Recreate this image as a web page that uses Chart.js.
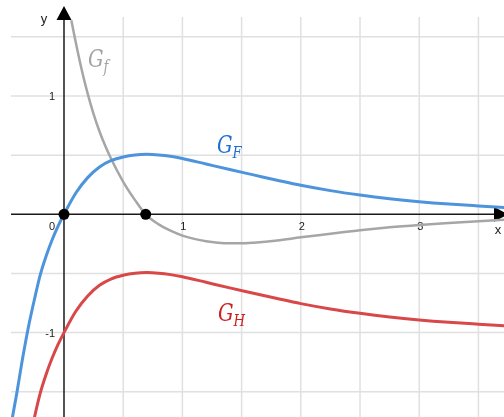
<!DOCTYPE html>
<html>
<head>
<meta charset="utf-8">
<script src="https://cdn.jsdelivr.net/npm/chart.js@4.4.1/dist/chart.umd.min.js"></script>
<style>
  html, body { margin: 0; padding: 0; background: #fff; }
  #wrap { width: 504px; height: 417px; }
</style>
</head>
<body>
<div id="wrap"><canvas id="graph"></canvas></div>
<script>
// curve values
const xF = [-0.44, -0.40, -0.35, -0.30, -0.25, -0.20, -0.15, -0.10, -0.05, 0, 0.1, 0.2, 0.3, 0.4, 0.5, 0.6, 0.7, 0.8, 0.9, 1.0, 1.2, 1.4, 1.6, 1.8, 2.0, 2.25, 2.5, 2.75, 3.0, 3.25, 3.5, 3.72];
const yF = [-1.74, -1.52, -1.22, -0.95, -0.72, -0.51, -0.35, -0.215, -0.10, 0, 0.18, 0.31, 0.40, 0.455, 0.485, 0.502, 0.507, 0.502, 0.49, 0.472, 0.425, 0.378, 0.333, 0.288, 0.245, 0.20, 0.163, 0.132, 0.107, 0.087, 0.071, 0.058];

const xH = [-0.27, -0.25, -0.20, -0.15, -0.10, -0.05, 0, 0.1, 0.2, 0.3, 0.4, 0.5, 0.6, 0.7, 0.8, 0.9, 1.0, 1.2, 1.4, 1.6, 1.8, 2.0, 2.25, 2.5, 2.75, 3.0, 3.25, 3.5, 3.72];
const yH = [-1.82, -1.72, -1.51, -1.35, -1.215, -1.10, -1.0, -0.82, -0.69, -0.60, -0.545, -0.515, -0.498, -0.493, -0.498, -0.51, -0.528, -0.575, -0.622, -0.667, -0.712, -0.755, -0.80, -0.837, -0.868, -0.893, -0.913, -0.929, -0.942];

const xf = [0.062, 0.08, 0.1, 0.15, 0.2, 0.25, 0.3, 0.35, 0.4, 0.5, 0.6, 0.69, 0.8, 0.9, 1.0, 1.1, 1.2, 1.3, 1.4, 1.5, 1.6, 1.8, 2.0, 2.25, 2.5, 2.75, 3.0, 3.25, 3.5, 3.72];
const yf = [1.64, 1.55, 1.45, 1.22, 1.02, 0.847, 0.70, 0.575, 0.465, 0.275, 0.12, 0, -0.085, -0.138, -0.18, -0.208, -0.228, -0.24, -0.245, -0.245, -0.24, -0.222, -0.195, -0.165, -0.135, -0.11, -0.09, -0.073, -0.058, -0.046];

const dotX = [0, 0.69];
const dotY = [0, 0];

const xTicks = [1, 2, 3];
const yTicks = [1, -1];
const gridX = [0.5, 1, 1.5, 2, 2.5, 3, 3.5];
const gridY = [1.5, 1, 0.5, -0.5, -1, -1.5];

function pts(xs, ys) {
  return xs.map((x, i) => ({ x: x, y: ys[i] }));
}

// grid, axes with arrows and tick numbers
const axesPlugin = {
  id: 'axes',
  beforeDatasetsDraw(chart) {
    const ctx = chart.ctx;
    const sx = chart.scales.x, sy = chart.scales.y;
    const x0 = sx.getPixelForValue(0), y0 = sy.getPixelForValue(0);
    const left = 11, top = 17, right = chart.width, bottom = chart.height;
    ctx.save();
    ctx.strokeStyle = '#e0e0e0';
    ctx.lineWidth = 1.5;
    gridX.forEach(v => {
      const p = sx.getPixelForValue(v);
      ctx.beginPath(); ctx.moveTo(p, top); ctx.lineTo(p, bottom); ctx.stroke();
    });
    gridY.forEach(v => {
      const p = sy.getPixelForValue(v);
      ctx.beginPath(); ctx.moveTo(left, p); ctx.lineTo(right, p); ctx.stroke();
    });

    ctx.strokeStyle = '#1a1a1a';
    ctx.fillStyle = '#000';
    ctx.lineWidth = 1.5;
    ctx.beginPath(); ctx.moveTo(left, y0); ctx.lineTo(495, y0); ctx.stroke();
    ctx.beginPath(); ctx.moveTo(x0, bottom); ctx.lineTo(x0, 19); ctx.stroke();
    // arrow heads
    ctx.beginPath(); ctx.moveTo(x0, 6); ctx.lineTo(x0 - 7.5, 20); ctx.lineTo(x0 + 7.5, 20); ctx.closePath(); ctx.fill();
    ctx.beginPath(); ctx.moveTo(508, y0); ctx.lineTo(494, y0 - 7.5); ctx.lineTo(494, y0 + 7.5); ctx.closePath(); ctx.fill();

    ctx.fillStyle = '#222';
    ctx.font = '11px "Liberation Sans", Arial, sans-serif';
    ctx.textBaseline = 'middle';
    ctx.textAlign = 'center';
    xTicks.forEach(v => ctx.fillText(String(v), sx.getPixelForValue(v) + 1, y0 + 13));
    ctx.fillText('0', x0 - 12, y0 + 13);
    ctx.textAlign = 'right';
    yTicks.forEach(v => ctx.fillText(String(v), x0 - 9, sy.getPixelForValue(v) + 1));
    ctx.font = '13px "Liberation Sans", Arial, sans-serif';
    ctx.textAlign = 'center';
    ctx.fillText('x', 498, y0 + 16);
    ctx.fillText('y', 44, 19);
    ctx.restore();
  },
  afterDatasetsDraw(chart) {
    const ctx = chart.ctx;
    function label(main, sub, x, y, color) {
      ctx.save();
      ctx.fillStyle = color;
      ctx.textBaseline = 'alphabetic';
      ctx.textAlign = 'left';
      ctx.translate(x, y);
      ctx.scale(0.78, 1);
      ctx.font = 'italic 25px "DejaVu Serif", serif';
      ctx.fillText(main, 0, 0);
      const w = ctx.measureText(main).width;
      ctx.font = 'italic 17px "DejaVu Serif", serif';
      ctx.fillText(sub, w, 5);
      ctx.restore();
    }
    label('G', 'f', 88, 67, '#a3a3a3');
    label('G', 'F', 217, 153, '#1f6fd1');
    label('G', 'H', 218, 321, '#cc2020');
  }
};

new Chart(document.getElementById('graph'), {
  type: 'scatter',
  data: {
    datasets: [
      {
        data: pts(dotX, dotY),
        showLine: false,
        pointRadius: 5.5,
        pointBackgroundColor: '#000',
        pointBorderWidth: 0,
        order: 0
      },
      {
        data: pts(xF, yF),
        showLine: true,
        borderColor: '#4d94dc',
        borderWidth: 3,
        pointRadius: 0,
        cubicInterpolationMode: 'monotone',
        order: 1
      },
      {
        data: pts(xH, yH),
        showLine: true,
        borderColor: '#d94848',
        borderWidth: 3,
        pointRadius: 0,
        cubicInterpolationMode: 'monotone',
        order: 2
      },
      {
        data: pts(xf, yf),
        showLine: true,
        borderColor: '#a6a6a6',
        borderWidth: 2.5,
        pointRadius: 0,
        cubicInterpolationMode: 'monotone',
        order: 3
      }
    ]
  },
  options: {
    animation: false,
    responsive: true,
    maintainAspectRatio: false,
    layout: { padding: 0, autoPadding: false },
    plugins: { legend: { display: false }, tooltip: { enabled: false } },
    scales: {
      x: { type: 'linear', display: false, min: -0.5405, max: 3.716 },
      y: { type: 'linear', display: false, min: -1.7135, max: 1.8115 }
    }
  },
  plugins: [axesPlugin]
});
</script>
</body>
</html>
